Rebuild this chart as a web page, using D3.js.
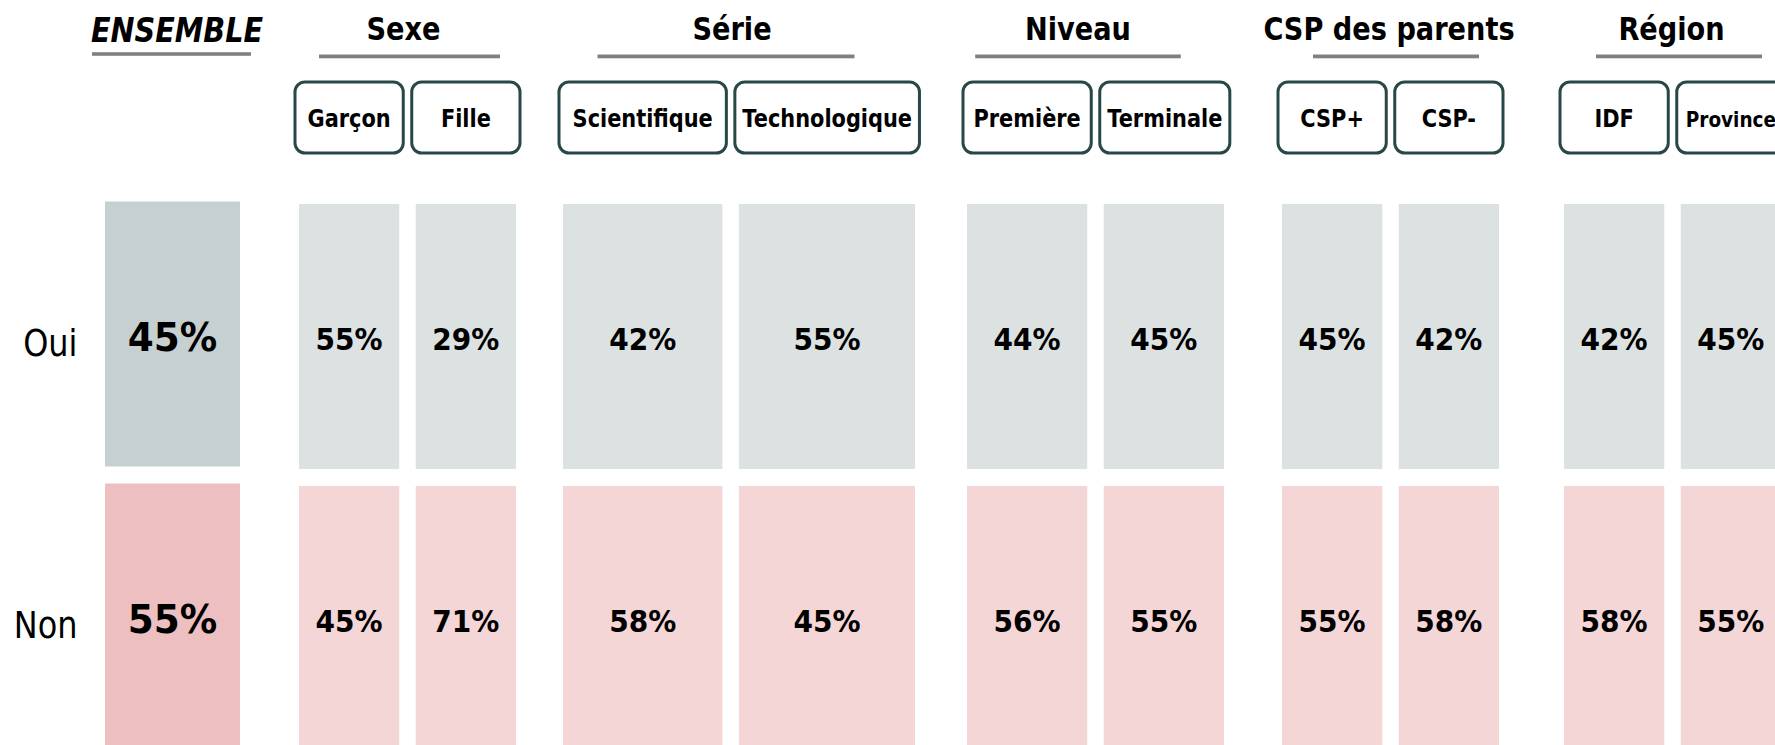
<!DOCTYPE html>
<html>
<head>
<meta charset="utf-8">
<script src="https://cdn.jsdelivr.net/npm/d3@7"></script>
<style>
  body { margin: 0; background: #fff; }
  svg { display: block; font-family: "DejaVu Sans", Verdana, sans-serif; }
</style>
</head>
<body>
<div id="chart"></div>
<script>
// data
const answers = ["Oui", "Non"];
const ensemble = [45, 55];
const groups = ["Sexe", "Série", "Niveau", "CSP des parents", "Région"];
const categories = [
  ["Garçon", "Fille"],
  ["Scientifique", "Technologique"],
  ["Première", "Terminale"],
  ["CSP+", "CSP-"],
  ["IDF", "Province"]
];
const oui = [[55, 29], [42, 55], [44, 45], [45, 42], [42, 45]];
const non = [[45, 71], [58, 45], [56, 55], [55, 58], [58, 55]];

// layout
const width = 1775, height = 745;
const groupSpans = [[299, 516], [563, 915], [967, 1224], [1282, 1499], [1564, 1781]];
const firstShare = [0.5, 0.475, 0.5, 0.5, 0.5];   // width share of the first column
const titleNudge = [-4, -7, -17.5, -1.5, -1];
const ruleNudge = [2, -13, -17.5, 5.5, 6.5];
const ruleShare = [0.834, 0.73, 0.8, 0.765, 0.765];
const colGap = 16.5;
const colors = {
  ensOui: "#c7d0d1", ensNon: "#edbfc0",
  oui: "#dce2e2", non: "#f4d6d7",
  box: "#284747", rule: "#808080"
};

const svg = d3.select("#chart").append("svg")
  .attr("width", width)
  .attr("height", height);

// rows
const y = d3.scaleBand().domain(answers).range([204, 751]).paddingInner(0.06);
const ensShift = -2.5;

// squeezed text (the original fonts are narrower than DejaVu)
function sqText(parent, x, yy, txt, size, sx, weight, anchor) {
  return parent.append("text")
    .attr("transform", `translate(${x},${yy}) scale(${sx},1)`)
    .attr("text-anchor", anchor || "middle")
    .attr("font-size", size)
    .attr("font-weight", weight || "bold")
    .attr("fill", "#000")
    .text(txt);
}

// row labels
answers.forEach(a => {
  sqText(svg, 77.5, y(a) + y.bandwidth() / 2 + 19.5, a, 37.6, 0.85, "normal", "end");
});

// ensemble column
const xe = d3.scaleBand().domain(["ENSEMBLE"]).range([105, 240]);
const ge = svg.append("g").attr("transform", `translate(0,${ensShift})`);
ge.selectAll("rect")
  .data(answers)
  .enter().append("rect")
    .attr("x", xe("ENSEMBLE"))
    .attr("y", d => y(d))
    .attr("width", xe.bandwidth())
    .attr("height", y.bandwidth())
    .attr("fill", (d, i) => i == 0 ? colors.ensOui : colors.ensNon);
answers.forEach((a, i) => {
  sqText(ge, xe("ENSEMBLE") + xe.bandwidth() / 2, y(a) + y.bandwidth() / 2 + 17,
    ensemble[i] + "%", 39.4, 0.95);
});
sqText(svg, xe("ENSEMBLE") + xe.bandwidth() / 2 + 4.5, 41.7, "ENSEMBLE", 33, 0.87)
  .attr("font-style", "italic");
svg.append("rect")
  .attr("x", xe("ENSEMBLE") - 13)
  .attr("y", 52.2)
  .attr("width", xe.bandwidth() + 24)
  .attr("height", 3.6)
  .attr("fill", colors.rule);

// groups
groups.forEach((g, gi) => {
  const [a, b] = groupSpans[gi];
  const xs = d3.scaleLinear().domain([0, 1]).range([a, b - colGap]);
  const cols = categories[gi].map((c, ci) => {
    const x0 = ci == 0 ? xs(0) : xs(firstShare[gi]) + colGap;
    const x1 = ci == 0 ? xs(firstShare[gi]) : xs(1) + colGap;
    return {cat: c, x: x0, w: x1 - x0, ci: ci};
  });
  const grp = svg.append("g");
  const mid = (a + b) / 2;

  // header
  sqText(grp, mid + titleNudge[gi], 39.5, g, 32, 0.85);
  const ruleW = (b - a) * ruleShare[gi];
  grp.append("rect")
    .attr("x", mid + ruleNudge[gi] - ruleW / 2)
    .attr("y", 54.5)
    .attr("width", ruleW)
    .attr("height", 3.8)
    .attr("fill", colors.rule);

  // category boxes: widened for long labels, or the label shrinks at the page edge
  cols.forEach(c => {
    const box = grp.append("rect");
    const t = sqText(grp, 0, 126.5, c.cat, 24, 0.87);
    const len = t.node().getComputedTextLength() * 0.87;
    const bx = c.x - 4;
    let bw = Math.max(c.w + 8, len + 15);
    if (bx + bw > width + 8) {
      bw = c.w + 8;
      if (len > bw - 18) t.attr("font-size", 24 * (bw - 18) / len);
    }
    box.attr("x", bx)
      .attr("y", 82)
      .attr("width", bw)
      .attr("height", 71)
      .attr("rx", 10)
      .attr("fill", "#fff")
      .attr("stroke", colors.box)
      .attr("stroke-width", 3);
    t.attr("transform", `translate(${bx + bw / 2},126.5) scale(0.87,1)`);
  });

  // bars
  const cells = [];
  cols.forEach(c => {
    cells.push({col: c, ans: "Oui", v: oui[gi][c.ci]});
    cells.push({col: c, ans: "Non", v: non[gi][c.ci]});
  });
  grp.selectAll(".bar")
    .data(cells)
    .enter().append("rect")
      .attr("class", "bar")
      .attr("x", d => d.col.x)
      .attr("y", d => y(d.ans))
      .attr("width", d => d.col.w)
      .attr("height", y.bandwidth())
      .attr("fill", d => d.ans == "Oui" ? colors.oui : colors.non);
  cells.forEach(d => {
    sqText(grp, d.col.x + d.col.w / 2, y(d.ans) + y.bandwidth() / 2 + 13.5,
      d.v + "%", 29.8, 0.94);
  });
});
</script>
</body>
</html>
